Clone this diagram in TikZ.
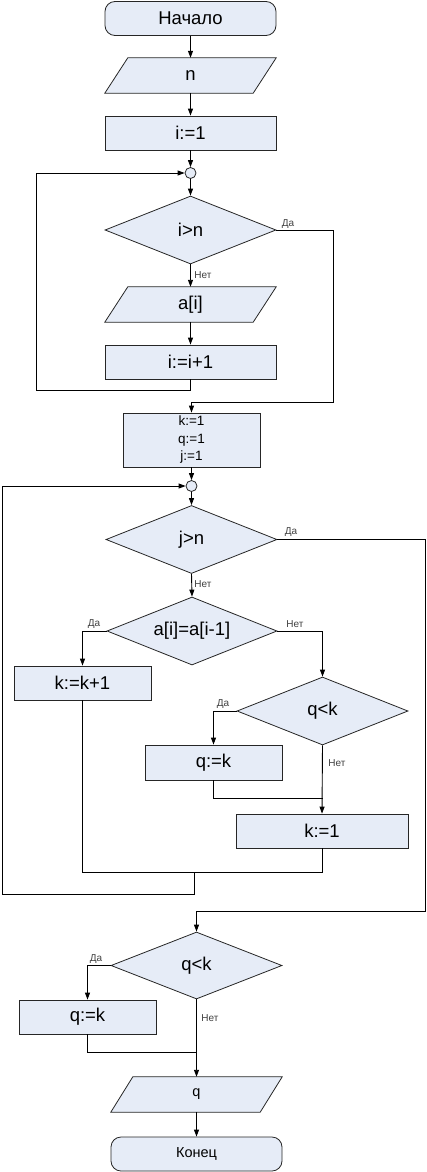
\documentclass[tikz,border=0pt]{standalone}
\usepackage{fontspec}
\setmainfont{Liberation Sans}
\usetikzlibrary{shapes.geometric,arrows.meta,backgrounds}
\definecolor{boxfill}{HTML}{E6ECF7}
\begin{document}
\begin{tikzpicture}[x=1pt,y=1pt,
  base/.style={draw=black!85, fill=boxfill, line width=0.8pt, inner sep=0pt, font=\fontsize{18.5}{21}\selectfont},
  box/.style={base, rectangle, minimum width=171pt, minimum height=34pt},
  sbox/.style={base, rectangle, minimum width=137pt, minimum height=34pt},
  term/.style={box, rounded corners=10pt},
  dec/.style={base, diamond, shape aspect=2.5, minimum width=171pt, minimum height=68pt},
  io/.style={rectangle, inner sep=0pt, minimum width=171pt, minimum height=35pt, font=\fontsize{18.5}{21}\selectfont},
  iofill/.style={draw=black!85, fill=boxfill, line width=0.8pt},
  jn/.style={base, circle, minimum size=11pt},
  conn/.style={line width=0.9pt, black},
  arr/.style={conn, -{Triangle[length=7pt,width=5pt]}},
  lbl/.style={font=\fontsize{10}{12}\selectfont, text=black!75, inner sep=0pt}]
\useasboundingbox (0,0) rectangle (426,-1172);

% nodes
\node[term] (start) at (190.5,-18.5) {Начало};
\node[io] (n) at (190.5,-75.5) {n};
\node[box] (i1) at (190.5,-133) {i:=1};
\node[jn] (c1) at (190.5,-173) {};
\node[dec] (d1) at (190.5,-230) {i>n};
\node[io] (ai) at (190.5,-304.5) {a[i]};
\node[box] (inc) at (190.5,-362) {i:=i+1};
\node[base, rectangle, minimum width=137pt, minimum height=54pt, align=center,
      font=\fontsize{13.5}{17.5}\selectfont] (kq) at (191.5,-440) {k:=1\\q:=1\\j:=1};
\node[jn] (c2) at (191.5,-486) {};
\node[dec] (d2) at (191.5,-539.5) {j>n};
\node[dec, minimum width=170pt] (d3) at (192,-631) {a[i]=a[i-1]};
\node[sbox] (kk) at (82.5,-683) {k:=k+1};
\node[dec] (d4) at (322.5,-711) {q<k};
\node[sbox, minimum height=35pt] (qk1) at (213.5,-762.5) {q:=k};
\node[box, minimum width=172pt] (k1) at (322,-831) {k:=1};
\node[dec, minimum height=67pt] (d5) at (196.5,-965.5) {q<k};
\node[sbox] (qk2) at (87.5,-1017) {q:=k};
\node[io, font=\fontsize{14.5}{17}\selectfont] (qo) at (196.5,-1094.5) {q};
\node[term, font=\fontsize{14.5}{17}\selectfont] (fin) at (196.5,-1154) {Конец};

% parallelograms
\begin{scope}[on background layer]
\draw[iofill] ([xshift=23pt]n.north west) -- (n.north east) -- ([xshift=-23pt]n.south east) -- (n.south west) -- cycle;
\draw[iofill] ([xshift=23pt]ai.north west) -- (ai.north east) -- ([xshift=-23pt]ai.south east) -- (ai.south west) -- cycle;
\draw[iofill] ([xshift=22pt]qo.north west) -- (qo.north east) -- ([xshift=-22pt]qo.south east) -- (qo.south west) -- cycle;
\end{scope}

% helper coordinates
\coordinate (L1) at (36,-390);
\coordinate (R1) at (333,-402);
\coordinate (R2) at (425,-911);
\coordinate (J1) at (322.5,-798);
\coordinate (B1) at (194,-872);
\coordinate (L2) at (2,-894);
\coordinate (J2) at (196.5,-1052);

% connectors
\draw[arr] (start) -- (n);
\draw[arr] (n) -- (i1);
\draw[arr] (i1) -- (c1);
\draw[arr] (c1) -- (d1);
\draw[arr] (d1.south) -- (ai.north);
\draw[arr] (ai) -- (inc);
\draw[arr] (inc.south) |- (L1) |- (c1.west);
\draw[arr] (d1.east) -| (R1) -| (kq.north);
\draw[arr] (kq) -- (c2);
\draw[arr] (c2) -- (d2);
\draw[arr] (d2.south) -- (d3.north);
\draw[arr] (d2.east) -| (R2) -| (d5.north);
\draw[arr] (d3.west) -| (kk.north);
\draw[arr] (d3.east) -| (d4.north);
\draw[arr] (d4.west) -| (qk1.north);
\draw[arr] (d4.south) -- (k1.north);
\draw[conn] (qk1.south) |- (J1);
\draw[conn] (kk.south) |- (B1) -| (k1.south);
\draw[arr] (B1) |- (L2) |- (c2.west);
\draw[arr] (d5.west) -| (qk2.north);
\draw[arr] (d5.south) -- (qo.north);
\draw[conn] (qk2.south) |- (J2);
\draw[arr] (qo) -- (fin);

% labels
\node[lbl] (y1) at (288,-224) {Да};
\node[lbl] (n1) at (203,-275) {Нет};
\node[lbl] (y2) at (291,-532) {Да};
\node[lbl] (n2) at (203,-584) {Нет};
\node[lbl] (y3) at (94,-624) {Да};
\node[lbl] (n3) at (295,-624) {Нет};
\node[lbl] (y4) at (223,-704) {Да};
\node[lbl] (n4) at (337,-763) {Нет};
\node[lbl] (y5) at (96,-959) {Да};
\node[lbl] (n5) at (210,-1018) {Нет};
\end{tikzpicture}
\end{document}
